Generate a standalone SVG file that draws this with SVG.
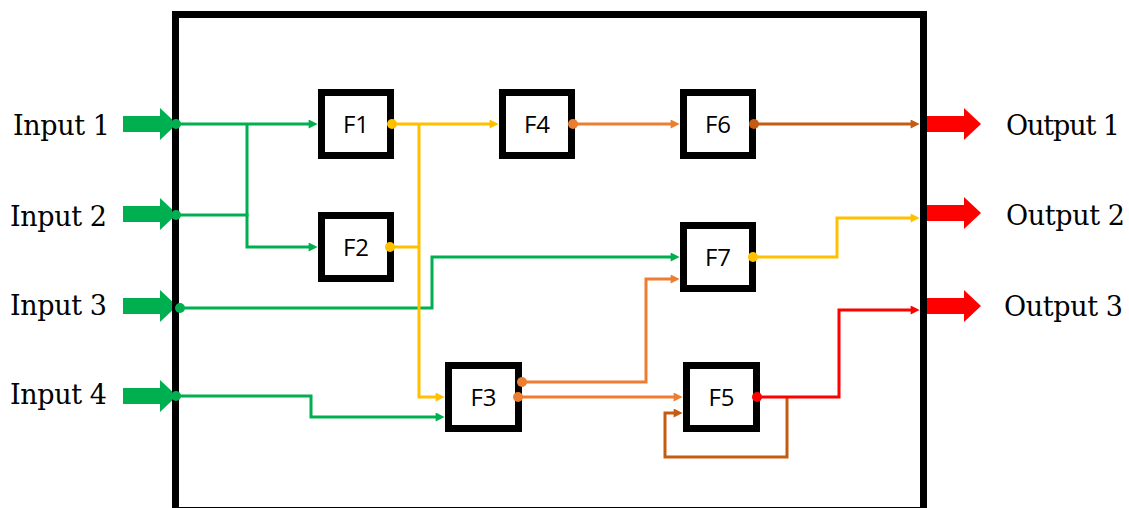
<svg xmlns="http://www.w3.org/2000/svg" width="1129" height="508" viewBox="0 0 1129 508">
<style>
.node rect{fill:#fff;stroke:#000;stroke-width:7}
.node text{font-family:"Open Sans","Noto Sans",sans-serif;font-size:24px;fill:#000;text-anchor:middle}
.lbl{font-family:"DejaVu Serif","Liberation Serif",serif;font-size:27px;fill:#000}
.c{fill:none;stroke-width:3;stroke-linejoin:miter}
.g{stroke:#00B050}.y{stroke:#FFC000}.o{stroke:#ED7D31}.b{stroke:#C55A11}.r{stroke:#FF0000}
</style>
<defs>
<marker id="mg" viewBox="0 0 10 10" refX="6" refY="5" markerWidth="10" markerHeight="9" markerUnits="userSpaceOnUse" orient="auto"><path d="M0,0L10,5L0,10z" fill="#00B050"/></marker>
<marker id="my" viewBox="0 0 10 10" refX="6" refY="5" markerWidth="10" markerHeight="9" markerUnits="userSpaceOnUse" orient="auto"><path d="M0,0L10,5L0,10z" fill="#FFC000"/></marker>
<marker id="mo" viewBox="0 0 10 10" refX="6" refY="5" markerWidth="10" markerHeight="9" markerUnits="userSpaceOnUse" orient="auto"><path d="M0,0L10,5L0,10z" fill="#ED7D31"/></marker>
<marker id="mb" viewBox="0 0 10 10" refX="6" refY="5" markerWidth="10" markerHeight="9" markerUnits="userSpaceOnUse" orient="auto"><path d="M0,0L10,5L0,10z" fill="#C55A11"/></marker>
<marker id="mr" viewBox="0 0 10 10" refX="6" refY="5" markerWidth="10" markerHeight="9" markerUnits="userSpaceOnUse" orient="auto"><path d="M0,0L10,5L0,10z" fill="#FF0000"/></marker>
</defs>
<rect width="1129" height="508" fill="#fff"/>
<g id="inputs">
<g id="input1"><polygon points="123,116 160,116 160,108 177,124 160,140 160,132 123,132" fill="#00B050"/><text class="lbl" x="13" y="135" textLength="97">Input 1</text></g>
<g id="input2"><polygon points="123,206 160,206 160,198 177,214 160,230 160,222 123,222" fill="#00B050"/><text class="lbl" x="10" y="226" textLength="97">Input 2</text></g>
<g id="input3"><polygon points="123,298 160,298 160,290 177,306 160,322 160,314 123,314" fill="#00B050"/><text class="lbl" x="10" y="315" textLength="97">Input 3</text></g>
<g id="input4"><polygon points="123,388 160,388 160,380 177,396 160,412 160,404 123,404" fill="#00B050"/><text class="lbl" x="10" y="404" textLength="97">Input 4</text></g>
</g>
<g id="outputs">
<g id="output1"><polygon points="927,116 964,116 964,108 981,124 964,140 964,132 927,132" fill="#FF0000"/><text class="lbl" x="1006" y="135" textLength="114">Output 1</text></g>
<g id="output2"><polygon points="927,205 964,205 964,197 981,213 964,229 964,221 927,221" fill="#FF0000"/><text class="lbl" x="1006" y="225" textLength="119">Output 2</text></g>
<g id="output3"><polygon points="927,298 964,298 964,290 981,306 964,322 964,314 927,314" fill="#FF0000"/><text class="lbl" x="1004" y="316" textLength="119">Output 3</text></g>
</g>
<g id="system-boundary">
<rect x="175.5" y="14.5" width="748" height="496" fill="none" stroke="#000" stroke-width="7"/>
</g>
<g id="connectors">
<path class="c g" d="M176,124H314" marker-end="url(#mg)"/>
<path class="c g" d="M247,124V247H314" marker-end="url(#mg)"/>
<path class="c g" d="M176,215H248.5"/>
<path class="c g" d="M179,308H432V257H676" marker-end="url(#mg)"/>
<path class="c g" d="M176,396H311V417H441" marker-end="url(#mg)"/>
<path class="c y" d="M392,124H495" marker-end="url(#my)"/>
<path class="c y" d="M419,124V397H441" marker-end="url(#my)"/>
<path class="c y" d="M390,247H419"/>
<path class="c y" d="M753,257H837V218H916" marker-end="url(#my)"/>
<path class="c o" d="M573,124H676" marker-end="url(#mo)"/>
<path class="c o" d="M522,382H646V279H676" marker-end="url(#mo)"/>
<path class="c o" d="M518,397H679" marker-end="url(#mo)"/>
<path class="c b" d="M754,124H916" marker-end="url(#mb)"/>
<path class="c b" d="M787,397V457H665V413H679" marker-end="url(#mb)"/>
<path class="c r" d="M757,397H839V310H916" marker-end="url(#mr)"/>
<circle cx="176" cy="124" r="5" fill="#00B050"/>
<circle cx="176" cy="215" r="5" fill="#00B050"/>
<circle cx="180" cy="308" r="5" fill="#00B050"/>
<circle cx="176" cy="396" r="5" fill="#00B050"/>
</g>
<g id="F1" class="node"><rect x="321.5" y="92.5" width="69" height="63"/><text x="356" y="133">F1</text></g>
<g id="F2" class="node"><rect x="321.5" y="215.5" width="69" height="63"/><text x="356" y="256">F2</text></g>
<g id="F4" class="node"><rect x="502.5" y="92.5" width="69" height="63"/><text x="537" y="133">F4</text></g>
<g id="F6" class="node"><rect x="683.5" y="92.5" width="69" height="63"/><text x="718" y="133">F6</text></g>
<g id="F7" class="node"><rect x="683.5" y="225.5" width="69" height="63"/><text x="718" y="266">F7</text></g>
<g id="F3" class="node"><rect x="448.5" y="365.5" width="70" height="63"/><text x="483.5" y="406">F3</text></g>
<g id="F5" class="node"><rect x="686.5" y="365.5" width="70" height="63"/><text x="721.5" y="406">F5</text></g>
<g id="ports">
<circle cx="392" cy="124" r="5" fill="#FFC000"/>
<circle cx="390" cy="247" r="5" fill="#FFC000"/>
<circle cx="753" cy="257" r="5" fill="#FFC000"/>
<circle cx="573" cy="124" r="5" fill="#ED7D31"/>
<circle cx="522" cy="382" r="5" fill="#ED7D31"/>
<circle cx="518" cy="397" r="5" fill="#ED7D31"/>
<circle cx="754" cy="124" r="5" fill="#C55A11"/>
<circle cx="757" cy="397" r="5" fill="#FF0000"/>
</g>
</svg>
